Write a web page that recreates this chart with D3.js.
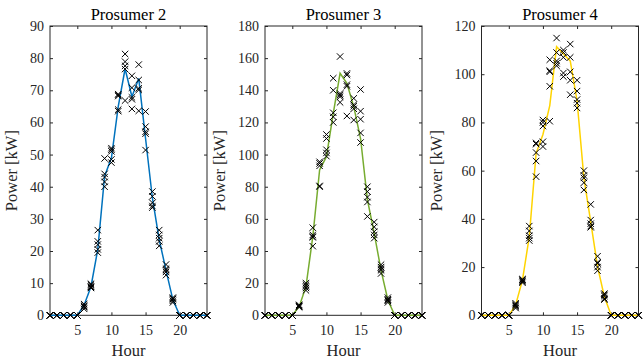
<!DOCTYPE html>
<html><head><meta charset="utf-8">
<script src="https://cdn.jsdelivr.net/npm/d3@7"></script>
<style>body{margin:0;background:#fff} svg{display:block} text{font-family:"Liberation Serif","Times New Roman",serif}</style>
</head><body><svg id="c" width="643" height="360"></svg>
<script>
const hours = d3.range(1, 25);
const titles = ["Prosumer 2", "Prosumer 3", "Prosumer 4"];
const yMaxes = [90, 180, 120];
const yTickSteps = [10, 20, 20];
const xTickValues = [5, 10, 15, 20];
const lineColors = ["#0072BD", "#77AC30", "#FFD400"];
const Z = [0, 0, 0, 0, 0];

const p2Line = [0,0,0,0,0,3.2,8.9,20.5,43.3,49,65,76.7,68,73.7,55,36.5,23.5,14,4.8,0,0,0,0,0];
const p2Samples = [Z,Z,Z,Z,Z,
  [2,2.5,3,3.5,2.8],[8.5,9,9.5,8.8,9.8],[19.5,20.5,22,23,26.5],[40,41.5,43,44,48.8],
  [47.5,48.5,51.5,52,51],[68.8,68.2,64,63.5,68.5],[81.3,78.9,77.6,76.6,66.8],
  [74.5,70.8,67.8,67.2,64.2],[78,73.2,70.6,70.1,63.6],[63.4,58.7,57.1,56.5,51.4],
  [38.5,37,35,33.5,34],[26.5,25,24,21.6,23],[15.8,14.5,13.5,12.5,14],[5.5,5,4.5,4,5.2],
  Z,Z,Z,Z,Z];

const p3Line = [0,0,0,0,0,5.4,17.8,48.9,90.4,98.7,125.7,150.6,144.4,129.8,110,72,51,28,9.5,0,0,0,0,0];
const p3Samples = [Z,Z,Z,Z,Z,
  [5,5.5,6,6.5,5.8],[20,19,18,17,15.5],[54.5,50,48.5,49,43],[80,80.5,93,94.5,95.5],
  [112.5,110,103,101,99],[147.5,140,126,123.5,120],[161,138,137,136,132.5],
  [150.5,149.5,143.5,142.5,124],[135,131,130,128.5,121.5],[140.5,127,122,113.5,107.5],
  [80,77,73.5,70.5,61.5],[58,55,52,50,48],[31.5,30,29,28,26],[11,10,9.5,9,8],
  Z,Z,Z,Z,Z];

const p4Line = [0,0,0,0,0,4.3,14.6,32.6,67.2,75,87,111.4,108.4,105.5,89,57,38.8,20.2,7.7,0,0,0,0,0];
const p4Samples = [Z,Z,Z,Z,Z,
  [4.5,3.5,3,4,5],[14,14.5,15,13.5,14.8],[37,35,33,32,31],[71.5,71,67.5,64,57.5],
  [81,80,78.5,72,70],[106,101.5,101,95,80.5],[115,109,105.5,104.5,103.5],
  [110,109,107,100.5,99],[112.5,107,101,97.5,91.5],[97.5,93,89.5,88,86],
  [60,58,57,55,52],[46,39.5,38,37,36.5],[24.5,22,21.5,20,18.5],[9,8.5,8,7,6.5],
  Z,Z,Z,Z,Z];

const lines = [p2Line, p3Line, p4Line];
const samples = [p2Samples, p3Samples, p4Samples];

const svg = d3.select("#c");
const lefts = [50, 265, 481.5];
const W = 157, plotTop = 26, plotBottom = 315.3;
const axisColor = "#262626";
const tickLen = 3;

for (let i = 0; i < 3; i++) {
  const L = lefts[i];
  const x = d3.scaleLinear().domain([1, 24]).range([L, L + W]);
  const y = d3.scaleLinear().domain([0, yMaxes[i]]).range([plotBottom, plotTop]);
  const g = svg.append("g");
  const yTicks = d3.range(0, yMaxes[i] + 0.001, yTickSteps[i]);

  const xb = g.append("g").attr("transform", `translate(0,${plotBottom})`)
    .call(d3.axisBottom(x).tickValues(xTickValues).tickSize(-tickLen).tickPadding(10).tickSizeOuter(0));
  const xt = g.append("g").attr("transform", `translate(0,${plotTop})`)
    .call(d3.axisTop(x).tickValues(xTickValues).tickSize(-tickLen).tickFormat("").tickSizeOuter(0));
  const yl = g.append("g").attr("transform", `translate(${L},0)`)
    .call(d3.axisLeft(y).tickValues(yTicks).tickSize(-tickLen).tickPadding(6).tickSizeOuter(0));
  const yr = g.append("g").attr("transform", `translate(${L + W},0)`)
    .call(d3.axisRight(y).tickValues(yTicks).tickSize(-tickLen).tickFormat("").tickSizeOuter(0));
  [xb, xt, yl, yr].forEach(a => {
    a.select(".domain").remove();
    a.selectAll("line").attr("stroke", axisColor);
    a.selectAll("text").attr("fill", axisColor).style("font-size", "14px")
      .style("font-family", '"Liberation Serif","Times New Roman",serif');
  });
  let maxW = 0;
  yl.selectAll("text").each(function () { maxW = Math.max(maxW, this.getBBox().width); });

  g.append("rect").attr("x", L).attr("y", plotTop).attr("width", W).attr("height", plotBottom - plotTop)
    .attr("fill", "none").attr("stroke", axisColor).attr("stroke-width", 1);

  g.append("path").datum(hours.map((h, k) => [h, lines[i][k]]))
    .attr("fill", "none").attr("stroke", lineColors[i]).attr("stroke-width", 1.5)
    .attr("d", d3.line().x(d => x(d[0])).y(d => y(d[1])));

  const pts = [];
  hours.forEach((h, k) => samples[i][k].forEach(v => pts.push([h, v])));
  const s = 3.2;
  g.append("g").selectAll("path").data(pts).join("path")
    .attr("d", d => { const cx = x(d[0]), cy = y(d[1]);
      return `M${cx - s},${cy - s}L${cx + s},${cy + s}M${cx - s},${cy + s}L${cx + s},${cy - s}`; })
    .attr("stroke", "#000").attr("stroke-width", 1).attr("fill", "none");

  g.append("text").attr("x", L + W / 2).attr("y", 20).attr("text-anchor", "middle")
    .style("font-size", "16.5px").attr("fill", "#000").text(titles[i]);
  g.append("text").attr("x", L + W / 2).attr("y", 356).attr("text-anchor", "middle")
    .style("font-size", "16.5px").attr("fill", axisColor).text("Hour");
  g.append("text").attr("transform", `translate(${L - 6 - maxW - 13},${(plotTop + plotBottom) / 2}) rotate(-90)`)
    .attr("text-anchor", "middle").style("font-size", "16.5px").attr("fill", axisColor).text("Power [kW]");
}
</script></body></html>
